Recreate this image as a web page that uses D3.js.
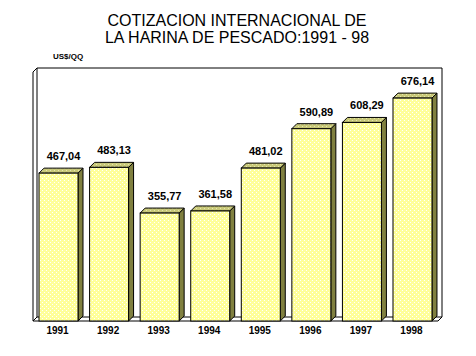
<!DOCTYPE html>
<html>
<head>
<meta charset="utf-8">
<script src="https://cdn.jsdelivr.net/npm/d3@7"></script>
<style>
  html, body { margin: 0; padding: 0; background: #fff; }
  svg { display: block; }
</style>
</head>
<body>
<script>
const years = ["1991", "1992", "1993", "1994", "1995", "1996", "1997", "1998"];
const values = [467.04, 483.13, 355.77, 361.58, 481.02, 590.89, 608.29, 676.14];
const valueLabels = ["467,04", "483,13", "355,77", "361,58", "481,02", "590,89", "608,29", "676,14"];
const titleLines = ["COTIZACION INTERNACIONAL DE", "LA HARINA DE PESCADO:1991 - 98"];
const unitLabel = "US$/QQ";

const W = 476, H = 356;
const svg = d3.select("body").append("svg").attr("width", W).attr("height", H);

const defs = svg.append("defs");
const pf = defs.append("pattern").attr("id", "front").attr("patternUnits", "userSpaceOnUse")
  .attr("width", 4).attr("height", 4);
pf.append("rect").attr("width", 4).attr("height", 4).attr("fill", "#ffff99");
pf.append("rect").attr("x", 0).attr("y", 0).attr("width", 1).attr("height", 1).attr("fill", "#ffffff");
pf.append("rect").attr("x", 2).attr("y", 2).attr("width", 1).attr("height", 1).attr("fill", "#ffffff");
const pt = defs.append("pattern").attr("id", "top").attr("patternUnits", "userSpaceOnUse")
  .attr("width", 4).attr("height", 4);
pt.append("rect").attr("width", 4).attr("height", 4).attr("fill", "#c8c878");
pt.append("rect").attr("x", 0).attr("y", 0).attr("width", 1).attr("height", 1).attr("fill", "#e8e8b0");
pt.append("rect").attr("x", 2).attr("y", 2).attr("width", 1).attr("height", 1).attr("fill", "#e8e8b0");

// geometry
const floorY = 321, topY = 68, left = 33, right = 438, wd = 4, bd = 5;

const x = d3.scaleBand().domain(years).range([left, right]).paddingInner(0.229).paddingOuter(0.119);
const y = d3.scaleLinear().domain([55, 760]).range([floorY, topY]);

// title
svg.append("g").selectAll("text").data(titleLines).join("text")
  .attr("x", 237).attr("y", (d, i) => 26 + i * 17)
  .attr("text-anchor", "middle")
  .attr("font-family", "Liberation Sans, Arial, sans-serif")
  .attr("font-size", 16).attr("fill", "#000")
  .text(d => d);

svg.append("text").attr("x", 53).attr("y", 59)
  .attr("font-family", "Liberation Sans, Arial, sans-serif")
  .attr("font-size", 8).attr("font-weight", "bold").text(unitLabel);

const frame = svg.append("g").attr("fill", "none").attr("stroke", "#000").attr("stroke-width", 1);
// back wall top and right edges
const line = d3.line();
frame.append("path").attr("d", line([[left + wd, topY], [right + wd, topY], [right + wd, floorY - wd]]));
// left wall
frame.append("path").attr("fill", "#fff").attr("d", line([[left, topY + wd], [left + wd, topY], [left + wd, floorY - wd], [left, floorY], [left, topY + wd]]));
// floor
frame.append("path").attr("fill", "#fff").attr("d", line([[left, floorY], [left + wd, floorY - wd], [right + wd, floorY - wd], [right, floorY], [left, floorY]]));

// bars
const bars = svg.append("g").selectAll("g").data(years).join("g");
const bw = x.bandwidth();
bars.append("path") // side
  .attr("fill", "#808040").attr("stroke", "#000").attr("stroke-width", 1)
  .attr("d", (d, i) => {
    const x0 = x(d) + bw, yt = y(values[i]);
    return line([[x0, yt], [x0 + bd, yt - bd], [x0 + bd, floorY - bd], [x0, floorY]]) + "Z";
  });
bars.append("path") // top
  .attr("fill", "url(#top)").attr("stroke", "#000").attr("stroke-width", 1)
  .attr("d", (d, i) => {
    const x0 = x(d), yt = y(values[i]);
    return line([[x0, yt], [x0 + bd, yt - bd], [x0 + bw + bd, yt - bd], [x0 + bw, yt]]) + "Z";
  });
bars.append("rect") // front
  .attr("x", d => x(d)).attr("y", (d, i) => y(values[i]))
  .attr("width", bw).attr("height", (d, i) => floorY - y(values[i]))
  .attr("fill", "url(#front)").attr("stroke", "#000").attr("stroke-width", 1);

// value labels
svg.append("g").selectAll("text").data(years).join("text")
  .attr("x", d => x(d) + bw / 2 + 5)
  .attr("y", (d, i) => y(values[i]) - 13)
  .attr("text-anchor", "middle")
  .attr("font-family", "Liberation Sans, Arial, sans-serif")
  .attr("font-size", 11).attr("font-weight", "bold")
  .text((d, i) => valueLabels[i]);

// category axis labels
svg.append("g").selectAll("text").data(years).join("text")
  .attr("x", d => x(d) + bw / 2 - 1).attr("y", 334)
  .attr("text-anchor", "middle")
  .attr("font-family", "Liberation Sans, Arial, sans-serif")
  .attr("font-size", 10).attr("font-weight", "bold")
  .text(d => d);
</script>
</body>
</html>
